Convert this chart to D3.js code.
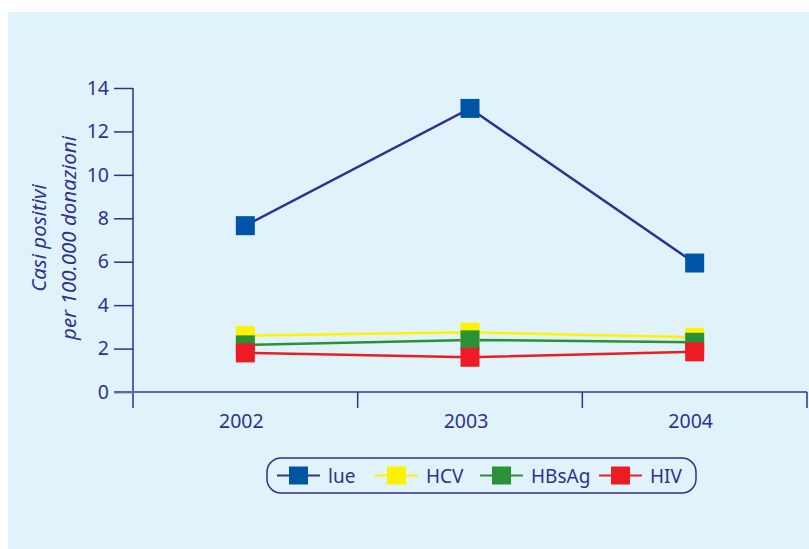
<!DOCTYPE html>
<html>
<head>
<meta charset="utf-8">
<script src="https://cdn.jsdelivr.net/npm/d3@7"></script>
<style>
  body { margin: 0; background: #fff; }
  svg { display: block; font-family: "Noto Sans", "Open Sans", sans-serif; }
</style>
</head>
<body>
<div class="chart"></div>
<script>
const years = ["2002", "2003", "2004"];
const yTicks = [0, 2, 4, 6, 8, 10, 12, 14];
const seriesNames = ["lue", "HCV", "HBsAg", "HIV"];
const lueValues = [7.66, 13.06, 5.94];
const hcvValues = [2.6, 2.75, 2.52];
const hbsagValues = [2.17, 2.4, 2.29];
const hivValues = [1.8, 1.6, 1.85];

const WIDTH = 809, HEIGHT = 549;
const margins = {left: 133, right: 2, top: 88, bottom: 157};
const textColor = "#2e3192";

const seriesColors = {
  lue: {line: "#2e3192", marker: "#0054a6"},
  HCV: {line: "#fff200", marker: "#fff200"},
  HBsAg: {line: "#2a9139", marker: "#2a9139"},
  HIV: {line: "#ed1c24", marker: "#ed1c24"}
};
const series = [
  {name: "lue", values: lueValues},
  {name: "HCV", values: hcvValues},
  {name: "HBsAg", values: hbsagValues},
  {name: "HIV", values: hivValues}
];

const svg = d3.select(".chart").append("svg")
  .attr("width", WIDTH)
  .attr("height", HEIGHT);

svg.append("rect")
  .attr("x", 8).attr("y", 12)
  .attr("width", WIDTH - 8).attr("height", HEIGHT - 12)
  .attr("fill", "#e0f3fa");

const x = d3.scaleBand().domain(years).range([margins.left, WIDTH - margins.right]);
const y = d3.scaleLinear().domain([0, 14]).range([HEIGHT - margins.bottom, margins.top]);
const cx = d => x(d) + x.bandwidth() / 2;

// y axis
const yAxis = svg.append("g")
  .attr("transform", `translate(${margins.left},0)`)
  .call(d3.axisLeft(y).tickValues(yTicks).tickSize(19).tickPadding(5).tickSizeOuter(0));
yAxis.select(".domain").remove();
yAxis.append("line")
  .attr("x1", 0).attr("x2", 0)
  .attr("y1", y(14)).attr("y2", y(0) + 16)
  .attr("stroke", textColor).attr("stroke-width", 1.5);
yAxis.selectAll(".tick line").attr("stroke", textColor).attr("stroke-width", 1.5);
yAxis.selectAll(".tick text")
  .attr("fill", textColor).attr("font-size", 19.5)
  .attr("font-family", "'Noto Sans', sans-serif");

// x axis
const xAxis = svg.append("g")
  .attr("transform", `translate(0,${y(0)})`);
xAxis.append("line")
  .attr("x1", margins.left - 19).attr("x2", WIDTH - margins.right)
  .attr("y1", 0).attr("y2", 0)
  .attr("stroke", "#5a67ad").attr("stroke-width", 2);
const bounds = years.map(d => x(d)).concat([x.range()[1]]);
xAxis.selectAll("line.xtick").data(bounds.slice(1)).enter()
  .append("line").attr("class", "xtick")
  .attr("x1", d => d).attr("x2", d => d)
  .attr("y1", 0).attr("y2", 16)
  .attr("stroke", textColor).attr("stroke-width", 1.5);
xAxis.selectAll("text").data(years).enter()
  .append("text")
  .attr("x", d => cx(d) - 4)
  .attr("y", 36)
  .attr("text-anchor", "middle")
  .attr("fill", textColor)
  .attr("font-size", 19.5)
  .text(d => d);

// y label
const yLabel = svg.append("text")
  .attr("transform", `translate(46,238) rotate(-90)`)
  .attr("text-anchor", "middle")
  .attr("fill", textColor)
  .attr("font-size", 20.5)
  .attr("font-style", "italic");
yLabel.append("tspan").attr("x", 0).attr("y", 0).text("Casi positivi");
yLabel.append("tspan").attr("x", 0).attr("y", 30).text("per 100.000 donazioni");

// lines and markers
const line = d3.line().x((d, i) => cx(years[i])).y(d => y(d));
const M = 19;
series.forEach(s => {
  svg.append("path")
    .datum(s.values)
    .attr("d", line)
    .attr("fill", "none")
    .attr("stroke", seriesColors[s.name].line)
    .attr("stroke-width", 2.5);
});
series.forEach(s => {
  svg.selectAll(null).data(s.values).enter()
    .append("rect")
    .attr("x", (d, i) => cx(years[i]) - M / 2)
    .attr("y", d => y(d) - M / 2)
    .attr("width", M).attr("height", M)
    .attr("fill", seriesColors[s.name].marker);
});

// legend
const legend = svg.append("g").attr("transform", "translate(267,458)");
legend.append("rect")
  .attr("width", 429).attr("height", 35)
  .attr("rx", 14).attr("ry", 14)
  .attr("fill", "none")
  .attr("stroke", textColor).attr("stroke-width", 1.5);
const itemX = [10, 108, 213, 332];
const item = legend.selectAll("g.item").data(seriesNames).enter()
  .append("g").attr("class", "item")
  .attr("transform", (d, i) => `translate(${itemX[i]},0)`);
item.append("line")
  .attr("x1", 0).attr("x2", 43)
  .attr("y1", 17.5).attr("y2", 17.5)
  .attr("stroke", d => seriesColors[d].line).attr("stroke-width", 2);
item.append("rect")
  .attr("x", 12).attr("y", 8.5)
  .attr("width", 19).attr("height", 18)
  .attr("fill", d => seriesColors[d].marker);
item.append("text")
  .attr("x", 51).attr("y", 24.5)
  .attr("fill", textColor)
  .attr("font-size", 19)
  .text(d => d);
</script>
</body>
</html>
